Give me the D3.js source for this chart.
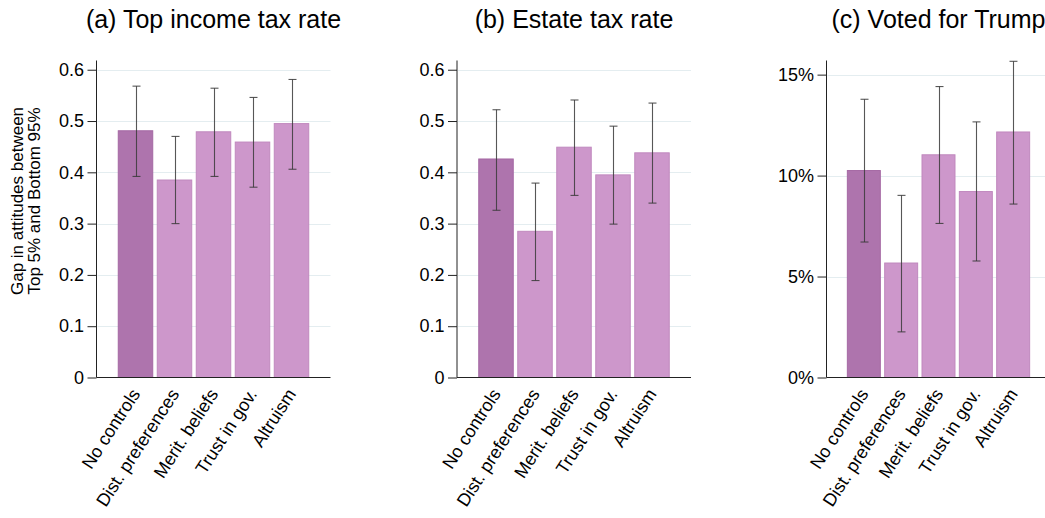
<!DOCTYPE html>
<html>
<head>
<meta charset="utf-8">
<script src="https://cdn.jsdelivr.net/npm/d3@7"></script>
<style>
  html, body { margin: 0; padding: 0; background: #fff; }
  svg { display: block; }
  text { font-family: "Liberation Sans", Arial, sans-serif; fill: #000; }
</style>
</head>
<body>
<svg id="chart" width="1045" height="518"></svg>
<script>
const categories = ["No controls", "Dist. preferences", "Merit. beliefs", "Trust in gov.", "Altruism"];

const titles = ["(a) Top income tax rate", "(b) Estate tax rate", "(c) Voted for Trump"];

const incomeValues = [0.481, 0.385, 0.479, 0.459, 0.495];
const incomeLow    = [0.392, 0.300, 0.392, 0.371, 0.406];
const incomeHigh   = [0.568, 0.470, 0.564, 0.546, 0.581];

const estateValues = [0.426, 0.285, 0.449, 0.395, 0.438];
const estateLow    = [0.326, 0.189, 0.355, 0.299, 0.340];
const estateHigh   = [0.522, 0.379, 0.541, 0.490, 0.535];

const trumpValues = [10.25, 5.67, 11.03, 9.21, 12.16];
const trumpLow    = [6.71, 2.26, 7.63, 5.77, 8.59];
const trumpHigh   = [13.78, 9.02, 14.41, 12.66, 15.66];

const rateTicks = [0, 0.1, 0.2, 0.3, 0.4, 0.5, 0.6];
const rateTickLabels = ["0", "0.1", "0.2", "0.3", "0.4", "0.5", "0.6"];
const pctTicks = [0, 5, 10, 15];
const pctTickLabels = ["0%", "5%", "10%", "15%"];

const yAxisLabel = ["Gap in attitudes between", "Top 5% and Bottom 95%"];

const panels = [
  { title: titles[0], values: incomeValues, low: incomeLow, high: incomeHigh,
    ticks: rateTicks, tickLabels: rateTickLabels, yMax: 0.618, x0: 96.5, x1: 330.5 },
  { title: titles[1], values: estateValues, low: estateLow, high: estateHigh,
    ticks: rateTicks, tickLabels: rateTickLabels, yMax: 0.618, x0: 457, x1: 691 },
  { title: titles[2], values: trumpValues, low: trumpLow, high: trumpHigh,
    ticks: pctTicks, tickLabels: pctTickLabels, yMax: 15.7, x0: 826.5, x1: 1050.5 }
];

const svg = d3.select("#chart");
const yBottom = 377.5, yTop = 60.5;
const darkFill = "#ae74ad", darkStroke = "#a468a3";
const lightFill = "#cd97cb", lightStroke = "#c088be";

panels.forEach((p, pi) => {
  const g = svg.append("g");
  const x = d3.scaleBand().domain(categories).range([p.x0, p.x1])
    .paddingInner(0.09).paddingOuter(0.545);
  const y = d3.scaleLinear().domain([0, p.yMax]).range([yBottom, yTop]);

  // gridlines
  g.append("g").selectAll("line").data(p.ticks.filter(t => t > 0)).join("line")
    .attr("x1", p.x0 + 1).attr("x2", p.x1)
    .attr("y1", d => Math.round(y(d)) + 0.5).attr("y2", d => Math.round(y(d)) + 0.5)
    .attr("stroke", "#e4edf0").attr("stroke-width", 1);

  // bars
  g.append("g").selectAll("rect").data(p.values).join("rect")
    .attr("x", (d, i) => x(categories[i]) + 0.5)
    .attr("width", x.bandwidth() - 1)
    .attr("y", d => y(d))
    .attr("height", d => yBottom - y(d))
    .attr("fill", (d, i) => i === 0 ? darkFill : lightFill)
    .attr("stroke", (d, i) => i === 0 ? darkStroke : lightStroke)
    .attr("stroke-width", 1);

  // error bars
  const eb = g.append("g").attr("stroke", "#3a3a3a").attr("stroke-opacity", 0.85).attr("stroke-width", 1.1);
  p.values.forEach((v, i) => {
    const cx = Math.round(x(categories[i]) + x.bandwidth() / 2) + 0.5;
    const yl = y(p.low[i]), yh = y(p.high[i]);
    eb.append("line").attr("x1", cx).attr("x2", cx).attr("y1", yl).attr("y2", yh);
    eb.append("line").attr("x1", cx - 4).attr("x2", cx + 4).attr("y1", yl).attr("y2", yl);
    eb.append("line").attr("x1", cx - 4).attr("x2", cx + 4).attr("y1", yh).attr("y2", yh);
  });

  // y axis
  const yAxis = d3.axisLeft(y).tickValues(p.ticks)
    .tickFormat((d, i) => p.tickLabels[i]).tickSize(9).tickPadding(3.5);
  const ya = g.append("g").attr("transform", `translate(${p.x0},0)`).call(yAxis);
  ya.select(".domain").attr("stroke", "#222").attr("d", `M0,${yTop}V${yBottom}`);
  ya.selectAll(".tick line").attr("stroke", "#222");
  ya.selectAll(".tick text").attr("font-size", 18).attr("fill", "#000")
    .attr("font-family", "Liberation Sans, Arial, sans-serif");

  // x axis
  const xAxis = d3.axisBottom(x).tickSize(0).tickFormat("");
  const xa = g.append("g").attr("transform", `translate(0,${yBottom})`).call(xAxis);
  xa.select(".domain").attr("stroke", "#222").attr("d", `M${p.x0},0H${p.x1}`);

  // x labels
  g.append("g").selectAll("text").data(categories).join("text")
    .attr("transform", d => `translate(${x(d) + x.bandwidth() / 2},${yBottom + 13}) rotate(-57)`)
    .attr("text-anchor", "end")
    .attr("dy", "0.35em")
    .attr("font-size", 18)
    .text(d => d);

  // title
  g.append("text")
    .attr("x", (p.x0 + p.x1) / 2).attr("y", 28)
    .attr("text-anchor", "middle").attr("font-size", 25)
    .text(p.title);
});

// y axis label
const yl = svg.append("text")
  .attr("transform", "translate(0,201) rotate(-90)")
  .attr("text-anchor", "middle").attr("font-size", 17);
yl.append("tspan").attr("x", 0).attr("y", 23).text(yAxisLabel[0]);
yl.append("tspan").attr("x", 0).attr("y", 40).text(yAxisLabel[1]);
</script>
</body>
</html>
